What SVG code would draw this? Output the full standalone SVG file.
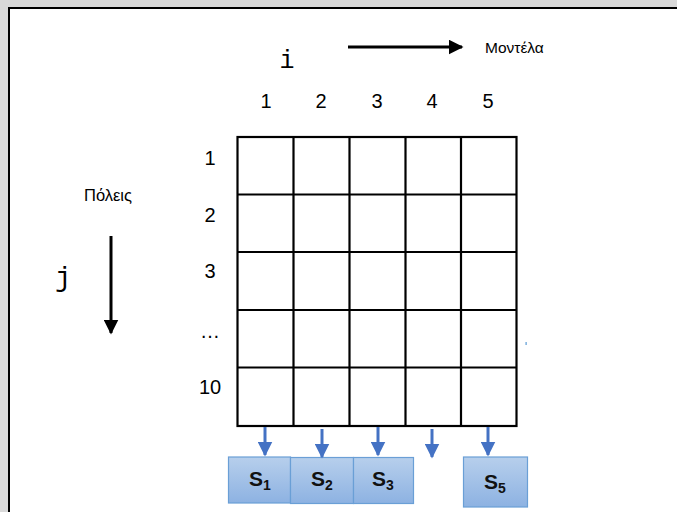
<svg xmlns="http://www.w3.org/2000/svg" width="677" height="512" viewBox="0 0 677 512">
<defs>
<linearGradient id="sg" x1="0" y1="0" x2="0" y2="1">
<stop offset="0" stop-color="#b7cfec"/>
<stop offset="1" stop-color="#8db2e2"/>
</linearGradient>
<marker id="bk" viewBox="0 0 10 10" refX="9" refY="5" markerWidth="5" markerHeight="5" markerUnits="strokeWidth" orient="auto">
<path d="M0,0 L10,5 L0,10 Z" fill="#000"/>
</marker>
<marker id="bl" viewBox="0 0 10 10" refX="9" refY="5" markerWidth="5" markerHeight="5" markerUnits="strokeWidth" orient="auto">
<path d="M0,0 L10,5 L0,10 Z" fill="#4472c4"/>
</marker>
</defs>
<style>
.t{font-family:"Liberation Sans",Arial,sans-serif;fill:#000}
.n{font-family:"Liberation Sans",Arial,sans-serif;fill:#000;font-size:20px;text-anchor:middle}
.m{font-family:"Liberation Mono","Courier New",monospace;fill:#000}
.g{fill:none;stroke:#000;stroke-width:2.2}
.box{fill:url(#sg);stroke:#6a9fd6;stroke-width:1.2}
.s{font-family:"Liberation Sans",Arial,sans-serif;font-weight:bold;font-size:21px;fill:#111}
.ba{stroke:#4472c4;stroke-width:3;marker-end:url(#bl)}
</style>
<rect x="0" y="0" width="677" height="512" fill="#d9d9d9"/>
<rect x="9" y="8" width="690" height="530" fill="#fff" stroke="#000" stroke-width="2"/>

<g id="labels">
<text class="m" x="287" y="68" font-size="25" text-anchor="middle">i</text>
<text class="t" x="485" y="53" font-size="15.5">Μοντέλα</text>
<text class="n" x="266" y="108">1</text>
<text class="n" x="321" y="108">2</text>
<text class="n" x="377" y="108">3</text>
<text class="n" x="432" y="108">4</text>
<text class="n" x="488" y="108">5</text>
<text class="t" x="108" y="201" font-size="16.5" text-anchor="middle">Πόλεις</text>
<text class="m" x="63" y="286" font-size="27" text-anchor="middle">j</text>
<text class="n" x="210" y="165">1</text>
<text class="n" x="210" y="222">2</text>
<text class="n" x="210" y="278">3</text>
<text class="n" x="210" y="338">…</text>
<text class="n" x="210" y="394">10</text>
</g>

<g id="grid">
<rect class="g" x="237.5" y="137" width="279" height="289"/>
<path class="g" d="M293.5,137V426M349.5,137V426M405.5,137V426M461,137V426M237.5,194.5H516.5M237.5,252H516.5M237.5,310H516.5M237.5,367.5H516.5"/>
</g>

<g id="S1"><rect class="box" x="228.5" y="457" width="62" height="46"/><text class="s" x="260" y="486" text-anchor="middle">S<tspan font-size="14" dy="4">1</tspan></text></g>
<g id="S2"><rect class="box" x="290.5" y="457.5" width="63" height="46"/><text class="s" x="322" y="486" text-anchor="middle">S<tspan font-size="14" dy="4">2</tspan></text></g>
<g id="S3"><rect class="box" x="353.5" y="457.5" width="60" height="46"/><text class="s" x="383" y="486" text-anchor="middle">S<tspan font-size="14" dy="4">3</tspan></text></g>
<g id="S5"><rect class="box" x="463.5" y="457" width="64" height="50"/><text class="s" x="495" y="489" text-anchor="middle">S<tspan font-size="14" dy="4">5</tspan></text></g>

<g id="connectors">
<line x1="348" y1="47" x2="462" y2="47" stroke="#000" stroke-width="3" marker-end="url(#bk)"/>
<line x1="111" y1="236" x2="111" y2="333" stroke="#000" stroke-width="3" marker-end="url(#bk)"/>
<line class="ba" x1="265" y1="427" x2="265" y2="455"/>
<line class="ba" x1="322" y1="429" x2="322" y2="457"/>
<line class="ba" x1="378" y1="427" x2="378" y2="455"/>
<line class="ba" x1="432" y1="429" x2="432" y2="457"/>
<line class="ba" x1="488" y1="427" x2="488" y2="455"/>
</g>
<rect x="525.5" y="342" width="1.2" height="3" fill="#5b9bd5"/>
</svg>
